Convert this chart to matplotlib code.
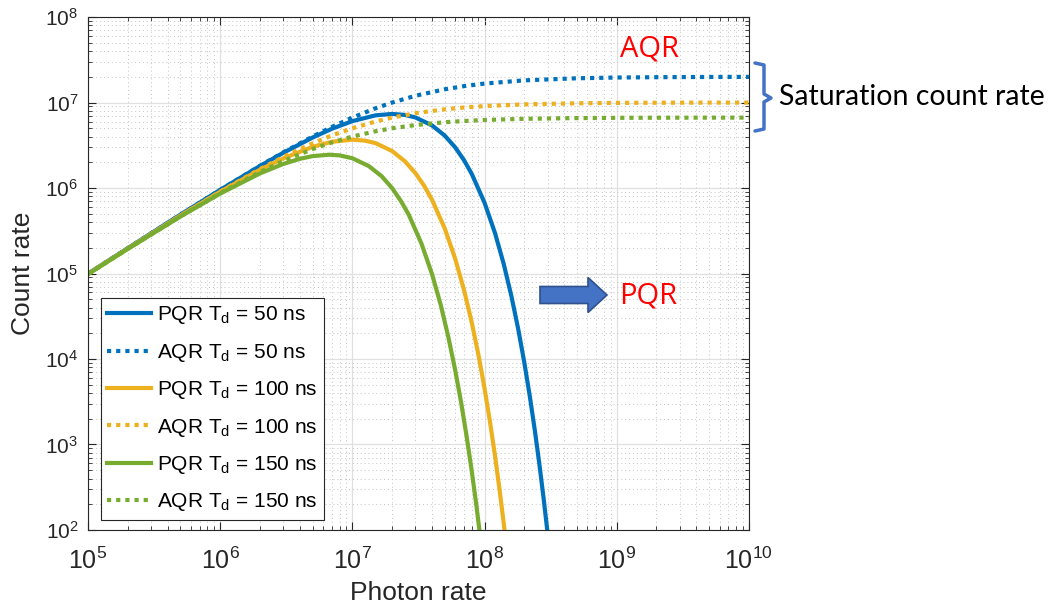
import matplotlib
matplotlib.use("Agg")
import matplotlib.pyplot as plt
from matplotlib.patches import FancyArrow

plt.rcParams["font.family"] = ["Liberation Sans", "DejaVu Sans"]
plt.rcParams["mathtext.default"] = "regular"

# photon rate (1/s) and count rates read for each quenching scheme / dead time
x_pqr_50 = [1e5, 2e5, 5e5, 1e6, 2e6, 3e6, 5e6, 7e6, 1e7, 1.5e7, 2e7, 2.5e7, 3e7,
            4e7, 5e7, 6e7, 7e7, 8e7, 1e8, 1.2e8, 1.4e8, 1.6e8, 1.8e8, 2e8,
            2.2e8, 2.4e8, 2.6e8, 2.8e8, 3e8]
y_pqr_50 = [99500, 198000, 487700, 951200, 1.810e6, 2.582e6, 3.894e6, 4.933e6,
            6.065e6, 7.085e6, 7.358e6, 7.163e6, 6.694e6, 5.413e6, 4.104e6,
            2.987e6, 2.114e6, 1.465e6, 6.738e5, 2.975e5, 1.277e5, 5.367e4,
            2.221e4, 9080, 3674, 1475, 587.7, 232.8, 91.8]

x_pqr_100 = [1e5, 2e5, 5e5, 1e6, 2e6, 3e6, 5e6, 7e6, 1e7, 1.25e7, 1.5e7, 2e7,
             2.5e7, 3e7, 3.5e7, 4e7, 5e7, 6e7, 7e7, 8e7, 9e7, 1e8, 1.1e8,
             1.2e8, 1.3e8, 1.4e8, 1.5e8]
y_pqr_100 = [99000, 196000, 475600, 904800, 1.637e6, 2.222e6, 3.033e6, 3.476e6,
             3.679e6, 3.581e6, 3.347e6, 2.707e6, 2.052e6, 1.494e6, 1.057e6,
             7.326e5, 3.369e5, 1.487e5, 6.383e4, 2.684e4, 1.111e4, 4540, 1837,
             737.3, 293.8, 116.4, 45.9]

x_pqr_150 = [1e5, 2e5, 5e5, 1e6, 2e6, 3e6, 4e6, 5e6, 6.67e6, 8e6, 1e7, 1.33e7,
             1.67e7, 2e7, 2.33e7, 2.67e7, 3.33e7, 4e7, 4.67e7, 5.33e7, 6e7,
             6.67e7, 7.33e7, 8e7, 8.67e7, 9.33e7]
y_pqr_150 = [98510, 194100, 463900, 860700, 1.482e6, 1.913e6, 2.195e6, 2.362e6,
             2.453e6, 2.410e6, 2.231e6, 1.809e6, 1.370e6, 9.958e5, 7.046e5,
             4.884e5, 2.246e5, 9.915e4, 4.256e4, 1.789e4, 7405, 3027, 1225,
             491.5, 195.9, 77.6]

x_aqr = [1e5, 2e5, 5e5, 1e6, 2e6, 3e6, 5e6, 7e6, 1e7, 1.5e7, 2e7, 3e7, 5e7,
         7e7, 1e8, 2e8, 5e8, 1e9, 2e9, 5e9, 1e10]
y_aqr_50 = [99500, 198000, 487800, 952400, 1.818e6, 2.609e6, 4.0e6, 5.185e6,
            6.667e6, 8.571e6, 1.0e7, 1.2e7, 1.429e7, 1.556e7, 1.667e7,
            1.818e7, 1.923e7, 1.961e7, 1.980e7, 1.992e7, 1.996e7]
y_aqr_100 = [99010, 196100, 476200, 909100, 1.667e6, 2.308e6, 3.333e6,
             4.118e6, 5.0e6, 6.0e6, 6.667e6, 7.5e6, 8.333e6, 8.75e6, 9.091e6,
             9.524e6, 9.804e6, 9.901e6, 9.950e6, 9.980e6, 9.990e6]
y_aqr_150 = [98520, 194200, 465100, 869600, 1.538e6, 2.069e6, 2.857e6,
             3.415e6, 4.0e6, 4.615e6, 5.0e6, 5.455e6, 5.882e6, 6.087e6, 6.25e6,
             6.452e6, 6.579e6, 6.623e6, 6.645e6, 6.658e6, 6.662e6]

BLUE = "#0072BD"
YELLOW = "#EDB120"
GREEN = "#77AC30"
AX = "#262626"
DOT = (0, (1, 1.2))

fig = plt.figure(figsize=(10.49, 6.07), dpi=100)
ax = fig.add_axes([0.0839, 0.1269, 0.630, 0.845])

lw = 3.0
ax.plot(x_pqr_50, y_pqr_50, color=BLUE, lw=lw, label=r"PQR T$_d$ = 50 ns")
ax.plot(x_aqr, y_aqr_50, color=BLUE, lw=lw, ls=DOT, label=r"AQR T$_d$ = 50 ns")
ax.plot(x_pqr_100, y_pqr_100, color=YELLOW, lw=lw, label=r"PQR T$_d$ = 100 ns")
ax.plot(x_aqr, y_aqr_100, color=YELLOW, lw=lw, ls=DOT, label=r"AQR T$_d$ = 100 ns")
ax.plot(x_pqr_150, y_pqr_150, color=GREEN, lw=lw, label=r"PQR T$_d$ = 150 ns")
ax.plot(x_aqr, y_aqr_150, color=GREEN, lw=lw, ls=DOT, label=r"AQR T$_d$ = 150 ns")

ax.set_xscale("log")
ax.set_yscale("log")
ax.set_xlim(1e5, 1e10)
ax.set_ylim(1e2, 1e8)

ax.grid(True, which="major", color="#e0e0e0", lw=0.9)
ax.grid(True, which="minor", color="#c4c4c4", lw=0.7, ls=(0, (1, 3)))
ax.set_axisbelow(True)
ax.tick_params(which="both", direction="in", top=True, right=True, colors=AX)
ax.tick_params(which="major", length=6)
ax.tick_params(which="minor", length=3)
ax.tick_params(axis="x", labelsize=18, pad=13)
ax.tick_params(axis="y", labelsize=15, pad=7)
for s in ax.spines.values():
    s.set_color(AX)
    s.set_linewidth(0.8)

ax.set_xlabel("Photon rate", fontsize=19, color=AX)
ax.xaxis.label.set_va("baseline")
ax.xaxis.set_label_coords(0.5, -0.136)
ax.set_ylabel("Count rate", fontsize=19, color=AX, labelpad=7)

leg = ax.legend(loc="lower left", bbox_to_anchor=(0.02, 0.02), borderaxespad=0,
                fontsize=15, handlelength=2.1, handletextpad=0.3,
                labelspacing=0.74, borderpad=0.3, fancybox=False,
                edgecolor=AX, framealpha=1)
leg.get_frame().set_linewidth(0.8)

# annotations around the plot
fig.text(650 / 1049, 1 - 49 / 607, "AQR", color="red", fontsize=21,
         ha="center", va="center", family=["Open Sans", "DejaVu Sans"])
fig.text(648 / 1049, 1 - 296 / 607, "PQR", color="red", fontsize=21,
         ha="center", va="center", family=["Open Sans", "DejaVu Sans"])
fig.text(779 / 1049, 1 - 97 / 607, "Saturation count rate", color="black",
         fontsize=20.5, ha="left", va="center", family=["Lato", "DejaVu Sans"])

arrow = FancyArrow(540, 607 - 295, 67, 0, width=17, head_width=35,
                   head_length=19, length_includes_head=True,
                   facecolor="#4472C4", edgecolor="#2F528F", lw=1.2,
                   transform=None)
fig.patches.append(arrow)

# curly bracket next to the saturation levels
bx = [755, 764, 764, 771, 764, 764, 755]
by = [63, 65, 94, 98, 102, 129, 131]
fig.add_artist(plt.Line2D([v / 1049 for v in bx], [1 - v / 607 for v in by],
                          color="#4472C4", lw=2.5, transform=fig.transFigure,
                          solid_joinstyle="round", solid_capstyle="round"))

fig.savefig("out.png", dpi=100)
